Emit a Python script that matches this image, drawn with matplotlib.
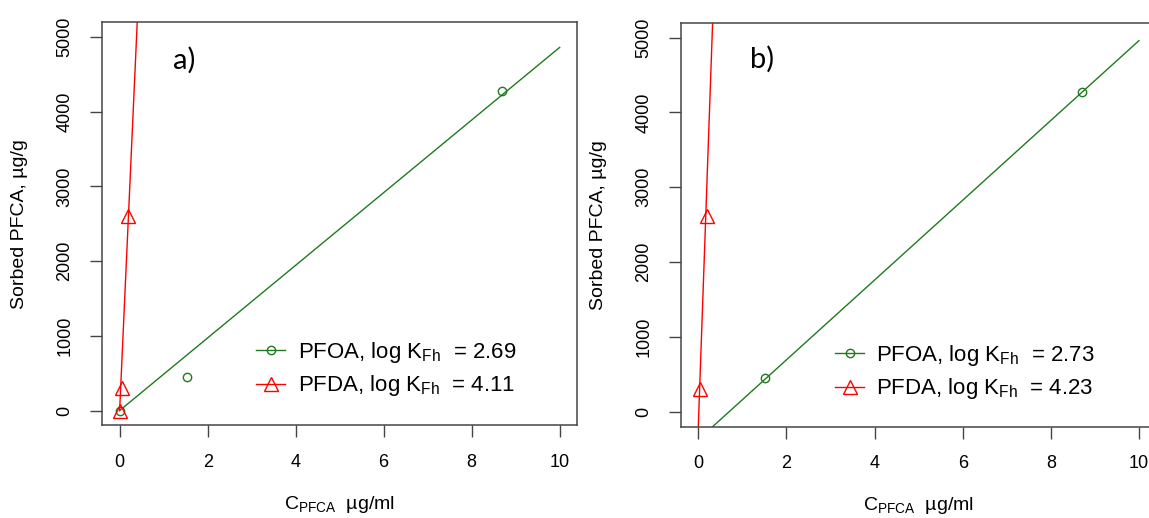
import matplotlib
matplotlib.use("Agg")
import matplotlib.pyplot as plt

plt.rcParams['font.family'] = ['Liberation Sans', 'DejaVu Sans']
plt.rcParams['mathtext.default'] = 'regular'

# panel a) measured points
a_pfoa_x = [0.0, 1.53, 8.68]
a_pfoa_y = [0, 455, 4275]
a_pfda_x = [0.0, 0.05, 0.2]
a_pfda_y = [0, 300, 2605]
# panel a) fitted isotherms (end points read off the picture)
a_pfoa_fit_x = [0.0, 10.0]
a_pfoa_fit_y = [0, 4860]
a_pfda_fit_x = [0.0, 0.42]
a_pfda_fit_y = [0, 5460]

# panel b) measured points
b_pfoa_x = [1.52, 8.7]
b_pfoa_y = [448, 4270]
b_pfda_x = [0.03, 0.2]
b_pfda_y = [300, 2610]
# panel b) fitted isotherms
b_pfoa_fit_x = [0.325, 10.0]
b_pfoa_fit_y = [-200, 4960]
b_pfda_fit_x = [0.0, 0.34]
b_pfda_fit_y = [-200, 5450]

labels_a = [r'PFOA, log K$_{Fh}$  = 2.69', r'PFDA, log K$_{Fh}$  = 4.11']
labels_b = [r'PFOA, log K$_{Fh}$  = 2.73', r'PFDA, log K$_{Fh}$  = 4.23']

x_ticks = [0, 2, 4, 6, 8, 10]
y_ticks = [0, 1000, 2000, 3000, 4000, 5000]

green = '#1f7a1f'
red = '#ff0000'
spine = '#454545'

fig = plt.figure(figsize=(11.49, 5.18), dpi=100)
ax1 = fig.add_axes([0.0888, 0.1786, 0.4136, 0.7789])
ax2 = fig.add_axes([0.5924, 0.1763, 0.4142, 0.7799])


def panel(ax, px, py, fx, fy, qx, qy, gx, gy, labels, tag, tagx, tagy, legx, legy):
    ax.plot(fx, fy, color=green, lw=1.0)
    ax.plot(px, py, ls='none', marker='o', ms=6, mfc='none', mec=green, mew=1.0)
    ax.plot(gx, gy, color=red, lw=1.0)
    ax.plot(qx, qy, ls='none', marker='^', ms=10, mfc='none', mec=red, mew=1.0)
    # legend handles show the marker on the line
    l1, = ax.plot([], [], color=green, lw=1.0, marker='o', ms=6, mfc='none', mew=1.0)
    l2, = ax.plot([], [], color=red, lw=1.0, marker='^', ms=10, mfc='none', mew=1.0)
    ax.legend([l1, l2], labels, loc='upper left', bbox_to_anchor=(legx, legy),
              frameon=False, fontsize=16, handlelength=1.3, handletextpad=0.55,
              labelspacing=0.38, borderaxespad=0, borderpad=0)

    ax.set_xlim(-0.4, 10.4)
    ax.set_ylim(-200, 5200)
    ax.set_xticks(x_ticks)
    ax.set_yticks(y_ticks)
    ax.tick_params(axis='both', length=8.5, width=1.0, color=spine,
                   labelsize=13, pad=12)
    for lab in ax.get_yticklabels():
        lab.set_rotation(90)
        lab.set_va('center')
    for s in ax.spines.values():
        s.set_color(spine)
        s.set_linewidth(1.1)

    ax.set_xlabel(r'C$_{PFCA}$  µg/ml', fontsize=14)
    ax.xaxis.set_label_coords(0.5, -0.17)
    ax.set_ylabel('Sorbed PFCA, µg/g', fontsize=14)
    ax.yaxis.set_label_coords(-0.155, 0.5)
    ax.text(tagx, tagy, tag, transform=ax.transAxes, fontsize=21,
            family='Lato', ha='left', va='center')


panel(ax1, a_pfoa_x, a_pfoa_y, a_pfoa_fit_x, a_pfoa_fit_y,
      a_pfda_x, a_pfda_y, a_pfda_fit_x, a_pfda_fit_y,
      labels_a, 'a)', 0.149, 0.906, 0.325, 0.212)
panel(ax2, b_pfoa_x, b_pfoa_y, b_pfoa_fit_x, b_pfoa_fit_y,
      b_pfda_x, b_pfda_y, b_pfda_fit_x, b_pfda_fit_y,
      labels_b, 'b)', 0.1456, 0.910, 0.325, 0.207)

fig.savefig('out.png', dpi=100)
